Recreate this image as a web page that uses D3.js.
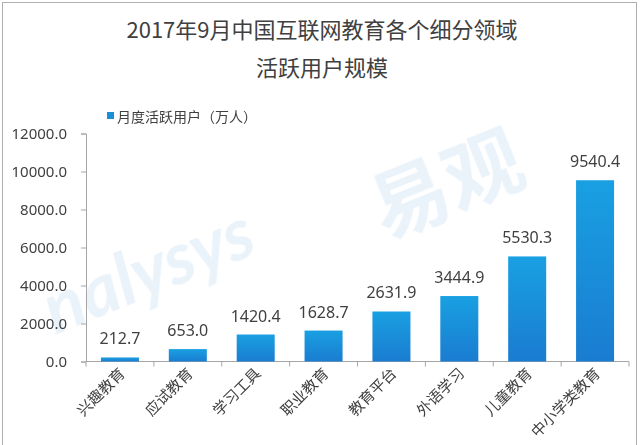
<!DOCTYPE html>
<html><head><meta charset="utf-8">
<script src="https://cdn.jsdelivr.net/npm/d3@7/dist/d3.min.js"></script>
<style>
html,body{margin:0;padding:0;background:#fff;}
svg{display:block;font-family:"Noto Sans CJK SC","Noto Sans",sans-serif;}
</style></head>
<body>
<script>
const categories = ["兴趣教育","应试教育","学习工具","职业教育","教育平台","外语学习","儿童教育","中小学类教育"];
const values = [212.7, 653.0, 1420.4, 1628.7, 2631.9, 3444.9, 5530.3, 9540.4];
const yTicks = [0, 2000, 4000, 6000, 8000, 10000, 12000];
const seriesName = "月度活跃用户（万人）";
const titleLines = ["2017年9月中国互联网教育各个细分领域", "活跃用户规模"];

const W = 640, H = 445;
const svg = d3.select("body").append("svg").attr("width", W).attr("height", H);

const defs = svg.append("defs");
const grad = defs.append("linearGradient").attr("id","bg").attr("x1",0).attr("y1",0).attr("x2",0).attr("y2",1);
grad.append("stop").attr("offset","0%").attr("stop-color","#19a0e2");
grad.append("stop").attr("offset","100%").attr("stop-color","#1a7cd0");

// frame
svg.append("rect").attr("x",2.5).attr("y",2.5).attr("width",634).attr("height",460)
  .attr("fill","none").attr("stroke","#b0b0b0").attr("stroke-width",1);

// watermark
const wm = svg.append("g").attr("fill","#e3eef9").attr("opacity",0.75);
wm.append("text").attr("transform","translate(55,335) rotate(-22)")
  .attr("font-size",72).attr("font-family","Lato, sans-serif").attr("font-weight","bold").attr("font-style","italic").text("nalysys");
wm.append("text").attr("transform","translate(385,240) rotate(-22)")
  .attr("font-size",78).attr("font-weight","bold").text("易观");

// title
svg.append("g").selectAll("text").data(titleLines).join("text")
  .attr("x",322).attr("y",(d,i)=>38+i*38).attr("text-anchor","middle")
  .attr("font-size",22).attr("fill","#404040").text(d=>d);

const x0 = 86, x1 = 629, y0 = 361.5, y1 = 133.5;
const x = d3.scaleBand().domain(categories).range([x0,x1]).paddingInner(0.44).paddingOuter(0.22);
const y = d3.scaleLinear().domain([0,12000]).range([y0,y1]);

// y axis
const yAxis = svg.append("g").attr("transform",`translate(${x0},0)`)
  .call(d3.axisLeft(y).tickValues(yTicks).tickFormat(d3.format(".1f")).tickSize(5).tickPadding(14));
yAxis.select(".domain").attr("stroke","#a6a6a6");
yAxis.selectAll(".tick line").attr("stroke","#a6a6a6");
yAxis.selectAll(".tick text").attr("font-size",15).attr("fill","#404040").attr("font-family","\"Noto Sans\",sans-serif");

// x axis
const xa = svg.append("g").attr("transform",`translate(0,${y0})`);
xa.append("line").attr("x1",x0).attr("x2",x1).attr("stroke","#a6a6a6");
const bounds = d3.range(categories.length+1).map(i => x0 + i*(x1-x0)/categories.length);
xa.selectAll("line.t").data(bounds).join("line").attr("class","t")
  .attr("x1",d=>d).attr("x2",d=>d).attr("y1",0).attr("y2",5).attr("stroke","#a6a6a6");
xa.selectAll("text").data(categories).join("text")
  .attr("transform",d=>`translate(${x(d)+x.bandwidth()/2+6},${13}) rotate(-45)`)
  .attr("text-anchor","end").attr("font-size",15).attr("fill","#404040").text(d=>d);

// bars
svg.append("g").selectAll("rect").data(values).join("rect")
  .attr("x",(d,i)=>x(categories[i])).attr("width",x.bandwidth())
  .attr("y",d=>y(d)).attr("height",d=>y0-y(d)).attr("fill","url(#bg)");

// labels
svg.append("g").selectAll("text").data(values).join("text")
  .attr("x",(d,i)=>x(categories[i])+x.bandwidth()/2).attr("y",d=>y(d)-13)
  .attr("text-anchor","middle").attr("font-size",16).attr("fill","#404040")
  .attr("font-family","\"Noto Sans\",sans-serif").text(d=>d3.format(".1f")(d));

// legend
const lg = svg.append("g");
lg.append("rect").attr("x",107).attr("y",112).attr("width",7).attr("height",7).attr("fill","#1a8fd9");
lg.append("text").attr("x",117).attr("y",122).attr("font-size",14).attr("fill","#404040").text(seriesName);
</script>
</body></html>
